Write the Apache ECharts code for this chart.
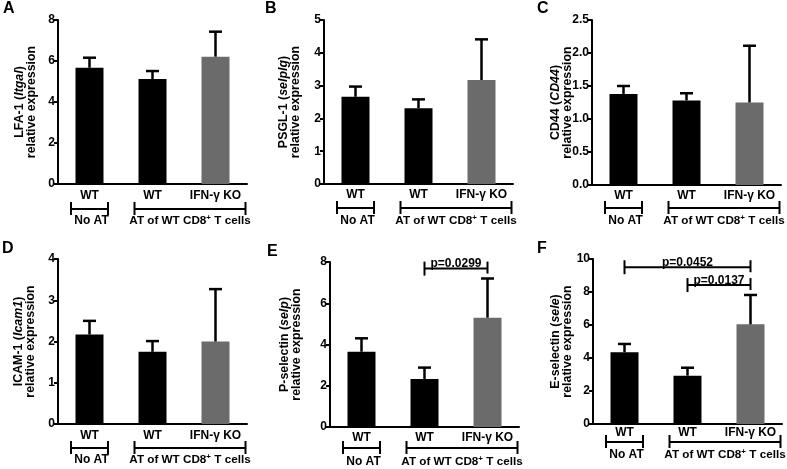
<!DOCTYPE html>
<html><head><meta charset="utf-8">
<script src="https://cdn.jsdelivr.net/npm/echarts@6/dist/echarts.min.js"></script>
<style>html,body{margin:0;padding:0;background:#fff}#c{width:787px;height:469px}</style>
</head><body><div id="c"></div>
<script>
// ---------- data ----------
const categories = ['WT', 'WT', 'IFN-γ KO'];
const groupLabelNoAT = 'No AT';
const groupLabelAT = ['AT of WT CD8', '+', ' T cells'];
const panelLetters = ['A', 'B', 'C', 'D', 'E', 'F'];

const titleMain = ['LFA-1 (', 'PSGL-1 (', 'CD44 (', 'ICAM-1 (', 'P-selectin (', 'E-selectin ('];
const titleGene = ['Itgal', 'selplg', 'CD44', 'Icam1', 'selp', 'sele'];
const titleSub = 'relative expression';

const lfa1Mean = [5.67, 5.12, 6.21];
const lfa1Upper = [6.16, 5.51, 7.43];
const psgl1Mean = [2.66, 2.31, 3.17];
const psgl1Upper = [2.97, 2.58, 4.41];
const cd44Mean = [1.38, 1.28, 1.25];
const cd44Upper = [1.50, 1.39, 2.11];
const icam1Mean = [2.17, 1.75, 2.00];
const icam1Upper = [2.50, 2.01, 3.27];
const pselMean = [3.65, 2.33, 5.30];
const pselUpper = [4.30, 2.88, 7.20];
const eselMean = [4.35, 2.93, 6.04];
const eselUpper = [4.85, 3.41, 7.82];

const yMax = [8, 5, 2.5, 4, 8, 10];
const yInterval = [2, 1, 0.5, 1, 2, 2];
const yDecimals = [0, 0, 1, 0, 0, 0];

const pvalA = [], pvalB = [], pvalC = [], pvalD = [];
const pvalE = [{ from: 1, to: 2, y: 7.68, label: 'p=0.0299' }];
const pvalF = [{ from: 0, to: 2, y: 9.5, label: 'p=0.0452' },
               { from: 1, to: 2, y: 8.42, label: 'p=0.0137' }];

// ---------- layout / style ----------
const means = [lfa1Mean, psgl1Mean, cd44Mean, icam1Mean, pselMean, eselMean];
const uppers = [lfa1Upper, psgl1Upper, cd44Upper, icam1Upper, pselUpper, eselUpper];
const pvals = [pvalA, pvalB, pvalC, pvalD, pvalE, pvalF];
const FONT = "'Liberation Sans', Arial, Helvetica, sans-serif";
const barColors = ['#000000', '#000000', '#6b6b6b'];
const grids = [
  { left: 58, top: 20, width: 189, height: 164 },
  { left: 324, top: 20, width: 189, height: 164 },
  { left: 592, top: 20, width: 189, height: 165 },
  { left: 58, top: 259, width: 189, height: 165 },
  { left: 330, top: 262, width: 189, height: 165 },
  { left: 593, top: 259, width: 189, height: 165 }
];
const nameGaps = [20, 22, 18, 21, 27, 19];
// offsets below axis: x label margin, bracket line, group label centre
const under = [
  { m: 6, b: 25, l: 37 },
  { m: 5, b: 24, l: 37 },
  { m: 5, b: 23, l: 36 },
  { m: 6, b: 24, l: 36 },
  { m: 5, b: 21, l: 35 },
  { m: 3, b: 18, l: 31 }
];
const letterPos = [[3, 10], [265, 10], [537, 10], [2, 250], [267, 253], [537, 250]];

function errRender(params, api) {
  const x = api.value(0), m = api.value(1), u = api.value(2);
  const p0 = api.coord([x, m]), p1 = api.coord([x, u]);
  const hw = 6.5;
  const st = { stroke: '#000', lineWidth: 2.5 };
  return { type: 'group', children: [
    { type: 'line', shape: { x1: p0[0], y1: p0[1], x2: p1[0], y2: p1[1] }, style: st },
    { type: 'line', shape: { x1: p1[0] - hw, y1: p1[1], x2: p1[0] + hw, y2: p1[1] }, style: st }
  ]};
}

function groupRender(k) {
  return function (params, api) {
    const U = under[k];
    const c0 = api.coord([0, 0]), c1 = api.coord([1, 0]), c2 = api.coord([2, 0]);
    const yb = c0[1] + U.b, yl = c0[1] + U.l;
    const st = { stroke: '#000', lineWidth: 2 };
    const br = (xa, xb) => [
      { type: 'line', shape: { x1: xa, y1: yb, x2: xb, y2: yb }, style: st },
      { type: 'line', shape: { x1: xa, y1: yb - 7, x2: xa, y2: yb + 6 }, style: st },
      { type: 'line', shape: { x1: xb, y1: yb - 7, x2: xb, y2: yb + 6 }, style: st }
    ];
    const a0 = c0[0] - 18.5, a1 = c0[0] + 18.5;
    const b0 = c1[0] - 18, b1 = c2[0] + 30;
    return { type: 'group', children: [].concat(
      br(a0, a1), br(b0, b1),
      [{ type: 'text', style: { text: groupLabelNoAT, x: c0[0] + 2, y: yl, align: 'center', verticalAlign: 'middle',
           font: 'bold 12px ' + FONT, fill: '#000' } },
       { type: 'text', style: { text: '{n|' + groupLabelAT[0] + '}{s|' + groupLabelAT[1] + '}{n|' + groupLabelAT[2] + '}',
           x: (b0 + b1) / 2, y: yl, align: 'center', verticalAlign: 'middle',
           rich: { n: { fontFamily: FONT, fontWeight: 'bold', fontSize: 11.7, lineHeight: 14, fill: '#000' },
                   s: { fontFamily: FONT, fontWeight: 'bold', fontSize: 8, lineHeight: 8, verticalAlign: 'top', fill: '#000' } } } }]
    )};
  };
}

function pRender(k) {
  return function (params, api) {
    const d = pvals[k][params.dataIndex];
    const pa = api.coord([api.value(0), api.value(2)]);
    const pb = api.coord([api.value(1), api.value(2)]);
    const y = pa[1];
    const st = { stroke: '#000', lineWidth: 2 };
    return { type: 'group', children: [
      { type: 'line', shape: { x1: pa[0], y1: y, x2: pb[0], y2: y }, style: st },
      { type: 'line', shape: { x1: pa[0], y1: y - 7, x2: pa[0], y2: y + 7 }, style: st },
      { type: 'line', shape: { x1: pb[0], y1: y - 7, x2: pb[0], y2: y + 5 }, style: st },
      { type: 'text', style: { text: d.label, x: (pa[0] + pb[0]) / 2, y: y + 1.5, align: 'center', verticalAlign: 'bottom',
          font: 'bold 12px ' + FONT, fill: '#000' } }
    ]};
  };
}

const option = { animation: false, grid: [], xAxis: [], yAxis: [], series: [], graphic: [] };
for (let k = 0; k < 6; k++) {
  option.grid.push(Object.assign({ containLabel: false }, grids[k]));
  option.xAxis.push({
    type: 'category', gridIndex: k, data: categories,
    axisLine: { lineStyle: { color: '#000', width: 2 } },
    axisTick: { alignWithLabel: true, length: 4, lineStyle: { color: '#000', width: 2 } },
    axisLabel: { color: '#000', fontWeight: 'bold', fontSize: 12, fontFamily: FONT, margin: under[k].m, interval: 0 }
  });
  const dec = yDecimals[k];
  option.yAxis.push({
    type: 'value', gridIndex: k, min: 0, max: yMax[k], interval: yInterval[k],
    splitLine: { show: false },
    axisLine: { show: true, lineStyle: { color: '#000', width: 2 } },
    axisTick: { show: true, length: 4, lineStyle: { color: '#000', width: 2 } },
    axisLabel: { color: '#000', fontWeight: 'bold', fontSize: 12, fontFamily: FONT, margin: 3,
                 formatter: v => Number(v).toFixed(dec) },
    name: '{n|' + titleMain[k] + '}{i|' + titleGene[k] + '}{n|)}\n{n|' + titleSub + '}',
    nameLocation: 'middle', nameGap: nameGaps[k], nameMoveOverlap: false,
    nameTextStyle: { rich: {
      n: { fontFamily: FONT, fontWeight: 'bold', fontSize: 12.4, lineHeight: 12, color: '#000' },
      i: { fontFamily: FONT, fontWeight: 'bold', fontStyle: 'italic', fontSize: 12.4, lineHeight: 12, color: '#000' } } }
  });
  option.series.push({
    type: 'bar', xAxisIndex: k, yAxisIndex: k, barWidth: 28,
    data: means[k].map((v, i) => ({ value: v, itemStyle: { color: barColors[i] } }))
  });
  option.series.push({
    type: 'custom', xAxisIndex: k, yAxisIndex: k, renderItem: errRender, z: 5,
    data: means[k].map((v, i) => [i, v, uppers[k][i]])
  });
  option.series.push({
    type: 'custom', xAxisIndex: k, yAxisIndex: k, renderItem: groupRender(k), clip: false, silent: true,
    data: [[0, 0]]
  });
  if (pvals[k].length) {
    option.series.push({
      type: 'custom', xAxisIndex: k, yAxisIndex: k, renderItem: pRender(k), clip: false, z: 6,
      data: pvals[k].map(p => [p.from, p.to, p.y])
    });
  }
  option.graphic.push({
    type: 'text', left: letterPos[k][0], top: letterPos[k][1] - 9,
    style: { text: panelLetters[k], font: 'bold 16px ' + FONT, fill: '#000' }
  });
}

const chart = echarts.init(document.getElementById('c'), null, { renderer: 'canvas' });
chart.setOption(option);
</script>
</body></html>
